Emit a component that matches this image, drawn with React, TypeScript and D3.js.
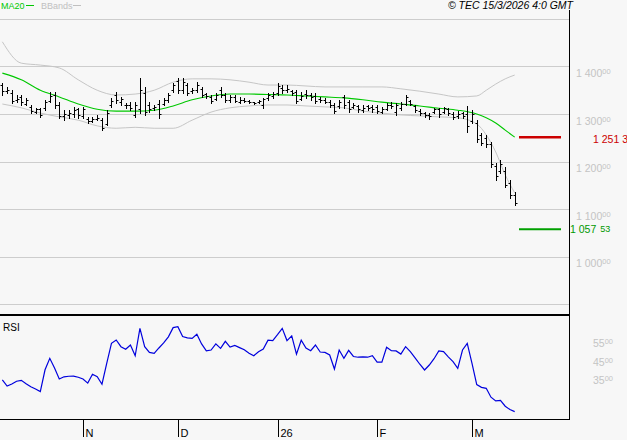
import * as d3 from 'd3';

// month ticks (bar index of first trading day) and their labels
const monthTicks = [17, 37, 58, 79, 99];
const monthLabels = ['N', 'D', '26', 'F', 'M'];
const priceGrid = [900, 1000, 1100, 1200, 1300, 1400, 1500];
const priceLabels = [1000, 1100, 1200, 1300, 1400];
const rsiLabels = [35, 45, 55];

const lastMa = 1251.3;
const lastMark = 1057.53;

// daily OHLC
const open = [
  1360, 1348, 1345, 1330, 1335, 1322, 1315, 1305, 1310, 1312,
  1328, 1340, 1320, 1295, 1298, 1300, 1310, 1296, 1290, 1286,
  1290, 1288, 1280, 1318, 1340, 1325, 1320, 1320, 1298, 1310,
  1345, 1320, 1312, 1322, 1322, 1330, 1350, 1370, 1350, 1360,
  1348, 1350, 1352, 1342, 1335, 1332, 1350, 1340, 1330, 1336,
  1326, 1330, 1328, 1325, 1325, 1318, 1334, 1338, 1345, 1355,
  1350, 1348, 1346, 1332, 1342, 1340, 1338, 1332, 1330, 1326,
  1318, 1316, 1335, 1325, 1315, 1316, 1308, 1316, 1314, 1314,
  1305, 1310, 1320, 1304, 1312, 1322, 1328, 1316, 1306, 1302,
  1298, 1304, 1310, 1305, 1310, 1300, 1295, 1302, 1300, 1285,
  1282, 1255, 1250, 1236, 1190, 1180, 1180, 1155, 1130,
];
const high = [
  1365, 1357, 1350, 1340, 1340, 1334, 1319, 1313, 1313, 1330,
  1346, 1346, 1325, 1308, 1308, 1315, 1313, 1315, 1294, 1294,
  1298, 1292, 1308, 1334, 1346, 1336, 1323, 1325, 1325, 1376,
  1357, 1325, 1319, 1330, 1334, 1344, 1365, 1376, 1376, 1365,
  1355, 1367, 1357, 1344, 1340, 1344, 1357, 1344, 1340, 1340,
  1336, 1334, 1330, 1325, 1330, 1334, 1344, 1346, 1365, 1361,
  1361, 1350, 1350, 1346, 1350, 1344, 1344, 1336, 1334, 1330,
  1323, 1330, 1340, 1330, 1323, 1319, 1319, 1319, 1319, 1319,
  1315, 1323, 1325, 1323, 1325, 1340, 1330, 1319, 1310, 1304,
  1302, 1313, 1313, 1315, 1313, 1304, 1306, 1304, 1317, 1308,
  1287, 1260, 1256, 1241, 1197, 1203, 1188, 1161, 1136,
];
const low = [
  1340, 1344, 1323, 1325, 1319, 1319, 1302, 1302, 1294, 1308,
  1325, 1313, 1292, 1287, 1292, 1294, 1292, 1292, 1281, 1283,
  1287, 1266, 1277, 1315, 1323, 1319, 1313, 1308, 1294, 1302,
  1298, 1304, 1308, 1292, 1319, 1325, 1346, 1344, 1344, 1340,
  1344, 1346, 1336, 1334, 1323, 1330, 1336, 1325, 1325, 1325,
  1323, 1325, 1323, 1321, 1323, 1313, 1330, 1334, 1340, 1344,
  1346, 1340, 1323, 1330, 1334, 1330, 1323, 1325, 1323, 1315,
  1302, 1313, 1313, 1304, 1313, 1304, 1304, 1308, 1304, 1302,
  1302, 1308, 1313, 1298, 1308, 1319, 1319, 1304, 1298, 1294,
  1290, 1302, 1294, 1302, 1298, 1290, 1292, 1292, 1262, 1281,
  1241, 1235, 1231, 1188, 1161, 1176, 1146, 1123, 1108,
];
const close = [
  1348, 1350, 1328, 1332, 1325, 1330, 1306, 1310, 1298, 1325,
  1338, 1318, 1296, 1300, 1302, 1308, 1298, 1310, 1285, 1290,
  1292, 1270, 1302, 1328, 1330, 1332, 1318, 1312, 1320, 1350,
  1305, 1310, 1315, 1300, 1330, 1340, 1360, 1350, 1368, 1345,
  1350, 1360, 1340, 1338, 1328, 1340, 1340, 1330, 1335, 1328,
  1330, 1328, 1325, 1324, 1328, 1332, 1340, 1343, 1358, 1350,
  1352, 1345, 1328, 1338, 1340, 1335, 1328, 1330, 1326, 1318,
  1306, 1326, 1318, 1310, 1318, 1310, 1312, 1312, 1310, 1306,
  1310, 1318, 1316, 1320, 1322, 1335, 1322, 1308, 1302, 1298,
  1296, 1310, 1300, 1312, 1302, 1294, 1300, 1296, 1275, 1300,
  1248, 1240, 1236, 1195, 1170, 1195, 1150, 1130, 1112,
];

// MA20 and Bollinger bands, read at these bar indices
const bandIdx = [
  0, 4, 8, 12, 16, 20, 24, 28, 32, 36, 40, 44, 48, 52, 56,
  60, 64, 68, 72, 76, 80, 84, 88, 92, 96, 100, 102, 104, 106, 108,
];
const ma20 = [
  1386, 1372, 1350, 1336, 1321, 1310, 1306, 1306, 1308, 1317, 1330, 1338, 1342, 1342, 1341,
  1340, 1338, 1336, 1334, 1330, 1325, 1321, 1317, 1312, 1308, 1300, 1292, 1281, 1266, 1251.3,
];
const bbUpper = [
  1452, 1407, 1403, 1397, 1372, 1350, 1340, 1342, 1350, 1367, 1374, 1374, 1372, 1367, 1361,
  1361, 1359, 1357, 1357, 1357, 1357, 1353, 1348, 1342, 1336, 1338, 1350, 1363, 1374, 1382,
];
const bbLower = [
  1321, 1313, 1302, 1294, 1287, 1275, 1270, 1272, 1270, 1270, 1287, 1304, 1313, 1317, 1319,
  1319, 1317, 1315, 1313, 1306, 1302, 1298, 1296, 1294, 1292, 1279, 1256, 1220, 1172, 1134,
];

// RSI per bar
const rsi = [
  31.5, 28.2, 29.3, 30.8, 31.3, 29.5, 27.8, 26.6, 25.2, 37,
  43.2, 38, 32, 33.2, 33.5, 33.6, 33, 32, 29.8, 34.6,
  33.3, 29.2, 40.5, 51.3, 53.1, 49.5, 48.1, 50.4, 44.6, 59.4,
  49.5, 46.4, 45.9, 48.8, 51.5, 54.8, 59.8, 60.3, 55, 54.3,
  54, 56.2, 51, 47.3, 47.7, 51, 48.6, 52.4, 49.3, 50.2,
  49, 47.8, 45.9, 44.6, 46.8, 48.2, 53, 52.8, 56, 59.4,
  52.8, 55.3, 45.5, 53, 48.8, 47.3, 50.4, 46.6, 46.4, 45,
  37.4, 47.7, 43.2, 47.5, 44.2, 43.8, 44, 43.8, 44.6, 41.1,
  41.1, 49.2, 47.3, 47.2, 45.5, 49.5, 46.8, 43.5, 40, 36.9,
  39.6, 43, 47.2, 46.8, 44, 41.4, 37.8, 47.7, 51.3, 40.5,
  29, 27.5, 27, 22.2, 20.2, 20.5, 17.3, 15.5, 14.4,
];

const FONT = '"Liberation Sans", Arial, sans-serif';

const App = () => {
  const width = 627;
  const height = 440;
  const plotRight = 569;

  const x = d3.scaleLinear().domain([17, 99]).range([83, 472]);
  const y = d3.scaleLinear().domain([900, 1500]).range([304, 19]);
  const yR = d3.scaleLinear().domain([35, 55]).range([373.5, 336.5]);
  const px = (i: number) => Math.round(x(i)) + 0.5;

  const bandLine = (vals: number[]) =>
    d3
      .line<number>()
      .x((_, k) => x(bandIdx[k]))
      .y((v) => y(v))
      .curve(d3.curveMonotoneX)(vals) || '';

  const rsiLine =
    d3
      .line<number>()
      .x((_, i) => x(i))
      .y((v) => yR(v))(rsi) || '';

  return (
    <svg
      width={width}
      height={height}
      style={{ position: 'absolute', left: 0, top: 0, background: '#f7f7f7' }}
      fontFamily={FONT}
    >
      <defs>
        <clipPath id="priceClip">
          <rect x={0} y={19} width={plotRight} height={295} />
        </clipPath>
        <clipPath id="rsiClip">
          <rect x={0} y={316} width={plotRight} height={103} />
        </clipPath>
      </defs>

      {/* price grid */}
      {priceGrid.map((p) => (
        <line
          key={p}
          x1={0}
          x2={plotRight}
          y1={Math.round(y(p)) + 0.5}
          y2={Math.round(y(p)) + 0.5}
          stroke="#cdcdcd"
          strokeWidth={1}
        />
      ))}

      <g clipPath="url(#priceClip)">
        <path d={bandLine(bbUpper)} fill="none" stroke="#c6c6c6" strokeWidth={1} />
        <path d={bandLine(bbLower)} fill="none" stroke="#c6c6c6" strokeWidth={1} />
        <path d={bandLine(ma20)} fill="none" stroke="#00c800" strokeWidth={1.1} />
        {close.map((c, i) => {
          const cx = px(i);
          const yo = Math.round(y(open[i])) + 0.5;
          const yc = Math.round(y(c)) + 0.5;
          return (
            <g key={i} stroke="#000" strokeWidth={1}>
              <line x1={cx} x2={cx} y1={Math.round(y(high[i]))} y2={Math.round(y(low[i])) + 1} />
              <line x1={cx - 2} x2={cx} y1={yo} y2={yo} />
              <line x1={cx} x2={cx + 2} y1={yc} y2={yc} />
            </g>
          );
        })}
      </g>

      {/* last MA marker and level */}
      <line x1={519} x2={561} y1={y(lastMa)} y2={y(lastMa)} stroke="#cc0000" strokeWidth={2.5} />
      <text x={593} y={y(lastMa) + 5.5} fontSize={10.5} fill="#cc0000">
        1 251<tspan fontSize={10.5} dx={3}>3</tspan>
      </text>
      <line x1={519} x2={561} y1={y(lastMark)} y2={y(lastMark)} stroke="#00a000" strokeWidth={2} />
      <text x={570} y={y(lastMark) + 4} fontSize={10.5} fill="#009900">
        1 057<tspan fontSize={9} dx={4} dy={-1}>53</tspan>
      </text>

      {/* price labels */}
      {priceLabels.map((p) => (
        <text key={p} x={576} y={y(p) + 10.5} fontSize={10.5} fill="#c4c4c4">
          {d3.format(',')(p).replace(',', ' ')}
          <tspan fontSize={7.5} dy={-3}>00</tspan>
        </text>
      ))}

      {/* RSI panel */}
      <g clipPath="url(#rsiClip)">
        <path d={rsiLine} fill="none" stroke="#0000dd" strokeWidth={1.2} />
      </g>
      <text x={3} y={331} fontSize={10} fill="#000">RSI</text>
      {rsiLabels.map((r) => (
        <text key={r} x={593} y={yR(r) + 10.5} fontSize={10.5} fill="#c4c4c4">
          {r}
          <tspan fontSize={7.5} dy={-3}>00</tspan>
        </text>
      ))}

      {/* frame */}
      <rect x={0} y={314} width={plotRight} height={2} fill="#000" />
      <line x1={0} x2={plotRight + 1} y1={419.5} y2={419.5} stroke="#000" strokeWidth={1} />
      <line x1={plotRight + 0.5} x2={plotRight + 0.5} y1={10} y2={420} stroke="#000" strokeWidth={1} />

      {/* time axis */}
      {monthTicks.map((m, k) => (
        <g key={m}>
          <line x1={px(m)} x2={px(m)} y1={420} y2={437} stroke="#000" strokeWidth={1} />
          <text x={px(m) + 2} y={437} fontSize={11} fill="#000">
            {monthLabels[k]}
          </text>
        </g>
      ))}

      {/* legend and header */}
      <text x={1} y={9} fontSize={9} fill="#00c800">MA20</text>
      <line x1={26} x2={34} y1={5.5} y2={5.5} stroke="#00c800" strokeWidth={1} />
      <text x={41} y={9} fontSize={9} fill="#c0c0c0">BBands</text>
      <line x1={73} x2={81} y1={5.5} y2={5.5} stroke="#c0c0c0" strokeWidth={1} />
      <text x={573} y={9} fontSize={10.5} fontStyle="italic" textAnchor="end" fill="#000">
        © TEC 15/3/2026 4:0 GMT
      </text>
    </svg>
  );
};

export default App;
